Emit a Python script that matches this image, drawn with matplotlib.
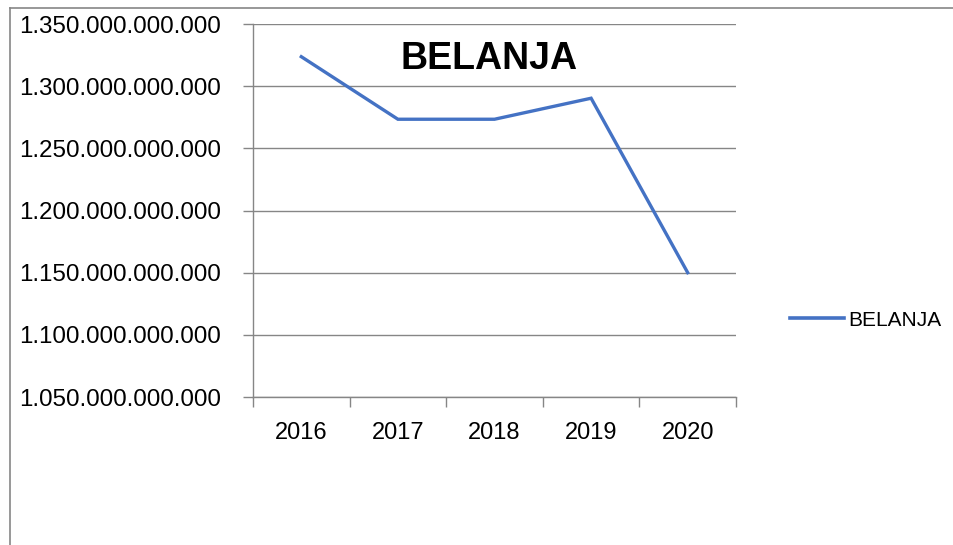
import matplotlib
matplotlib.use("Agg")
import matplotlib.pyplot as plt
from matplotlib.lines import Line2D
from matplotlib.ticker import FuncFormatter, FixedLocator

plt.rcParams['font.family'] = ['Liberation Sans', 'DejaVu Sans']

# data
tahun = ['2016', '2017', '2018', '2019', '2020']
belanja = [1323700000000, 1273400000000, 1273400000000, 1290300000000, 1150000000000]
y_ticks = [1050e9, 1100e9, 1150e9, 1200e9, 1250e9, 1300e9, 1350e9]

blue = '#4472C4'
gray = '#868686'

fig = plt.figure(figsize=(9.54, 5.45), dpi=100)
ax = fig.add_axes([253/954, 1 - 397/545, (736 - 253)/954, (397 - 24)/545])

x = list(range(len(tahun)))
ax.plot(x, belanja, color=blue, linewidth=2.4, solid_joinstyle='miter', label='BELANJA')

ax.set_xlim(-0.5, len(tahun) - 0.5)
ax.set_ylim(y_ticks[0], y_ticks[-1])
ax.set_yticks(y_ticks)
ax.yaxis.set_major_formatter(FuncFormatter(lambda v, p: f"{v:,.0f}".replace(",", ".")))
ax.grid(axis='y', color=gray, linewidth=1)
ax.set_axisbelow(True)

# category ticks between labels, labels centred on categories
ax.xaxis.set_major_locator(FixedLocator([i - 0.5 for i in range(len(tahun) + 1)]))
ax.xaxis.set_major_formatter(FuncFormatter(lambda v, p: ''))
ax.set_xticks(x, minor=True)
ax.set_xticklabels(tahun, minor=True)
ax.tick_params(axis='x', which='major', length=7, color=gray, width=1)
ax.tick_params(axis='x', which='minor', length=0, labelsize=17, pad=18)
ax.tick_params(axis='y', length=7, color=gray, width=1, labelsize=17.4, pad=16)

for s in ['top', 'right']:
    ax.spines[s].set_visible(False)
for s in ['left', 'bottom']:
    ax.spines[s].set_color(gray)
    ax.spines[s].set_linewidth(1)

fig.text(489/954, 1 - 59/545, 'BELANJA', ha='center', va='center',
         fontsize=27, fontweight='bold')

fig.legend(handles=[Line2D([0], [0], color=blue, linewidth=2.6, label='BELANJA')],
           loc='center left', bbox_to_anchor=(771/954, 1 - 320/545), frameon=False,
           fontsize=15, handlelength=2.6, handletextpad=0.2)

# chart area border (top and left edges visible)
fig.add_artist(Line2D([10/954, 1], [1 - 8/545, 1 - 8/545], color=gray, linewidth=1.2))
fig.add_artist(Line2D([10/954, 10/954], [0, 1 - 8/545], color=gray, linewidth=1.2))

fig.savefig('out.png', dpi=100)
